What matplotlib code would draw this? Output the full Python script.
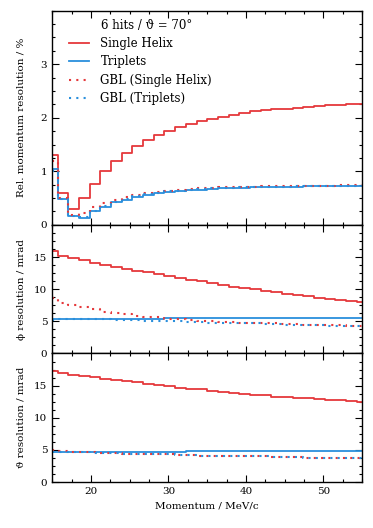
import numpy as np
import matplotlib
matplotlib.use('Agg')
import matplotlib.pyplot as plt
from matplotlib.ticker import MultipleLocator, AutoMinorLocator

plt.rcParams['font.family'] = ['DejaVu Serif']
plt.rcParams['font.size'] = 7.5

# bin centres (momentum / MeV/c)
momentum = np.linspace(15, 55, 30)

# relative momentum resolution / %
p_helix = [1.30, 0.60, 0.30, 0.50, 0.77, 1.00, 1.19, 1.35, 1.48, 1.59,
           1.68, 1.76, 1.83, 1.89, 1.94, 1.98, 2.02, 2.05, 2.09, 2.12,
           2.14, 2.16, 2.17, 2.19, 2.20, 2.22, 2.23, 2.24, 2.25, 2.26]
p_triplet = [1.05, 0.48, 0.16, 0.13, 0.25, 0.34, 0.42, 0.47, 0.52, 0.56,
             0.60, 0.62, 0.64, 0.65, 0.66, 0.67, 0.68, 0.69, 0.69, 0.70,
             0.70, 0.71, 0.71, 0.71, 0.72, 0.72, 0.72, 0.72, 0.73, 0.73]
p_gbl_helix = [1.20, 0.50, 0.18, 0.22, 0.33, 0.40, 0.47, 0.52, 0.56, 0.59,
               0.62, 0.64, 0.66, 0.67, 0.68, 0.69, 0.70, 0.70, 0.71, 0.71,
               0.72, 0.72, 0.72, 0.73, 0.73, 0.73, 0.73, 0.74, 0.74, 0.74]
p_gbl_triplet = [1.00, 0.49, 0.17, 0.15, 0.26, 0.35, 0.43, 0.48, 0.53, 0.57,
                 0.60, 0.63, 0.64, 0.66, 0.67, 0.68, 0.68, 0.69, 0.70, 0.70,
                 0.71, 0.71, 0.71, 0.72, 0.72, 0.72, 0.72, 0.73, 0.73, 0.73]

# phi resolution / mrad
phi_helix = [15.9, 15.2, 14.8, 14.5, 14.1, 13.8, 13.5, 13.2, 12.9, 12.6,
             12.3, 12.0, 11.7, 11.5, 11.2, 10.9, 10.7, 10.4, 10.2, 10.0,
             9.7, 9.5, 9.3, 9.1, 8.9, 8.7, 8.5, 8.3, 8.2, 8.0]
phi_triplet = [5.4, 5.4, 5.4, 5.4, 5.4, 5.4, 5.4, 5.4, 5.4, 5.4,
               5.4, 5.5, 5.5, 5.5, 5.5, 5.5, 5.5, 5.5, 5.5, 5.5,
               5.5, 5.5, 5.5, 5.5, 5.5, 5.5, 5.5, 5.5, 5.5, 5.55]
phi_gbl_helix = [8.6, 7.9, 7.5, 7.3, 6.9, 6.5, 6.3, 6.1, 5.9, 5.7,
                 5.6, 5.4, 5.3, 5.2, 5.1, 5.0, 4.9, 4.9, 4.8, 4.8,
                 4.7, 4.7, 4.6, 4.6, 4.5, 4.5, 4.4, 4.4, 4.3, 4.3]
phi_gbl_triplet = [5.2, 5.3, 5.3, 5.3, 5.3, 5.3, 5.2, 5.2, 5.2, 5.1,
                   5.1, 5.0, 5.0, 4.9, 4.9, 4.8, 4.8, 4.7, 4.7, 4.7,
                   4.6, 4.6, 4.5, 4.5, 4.4, 4.4, 4.3, 4.3, 4.2, 4.2]

# theta resolution / mrad
theta_helix = [17.2, 16.9, 16.7, 16.5, 16.3, 16.1, 15.9, 15.7, 15.5, 15.3,
               15.1, 14.9, 14.7, 14.5, 14.4, 14.2, 14.0, 13.9, 13.7, 13.6,
               13.5, 13.3, 13.2, 13.1, 13.0, 12.9, 12.8, 12.7, 12.6, 12.4]
theta_triplet = [4.6, 4.6, 4.6, 4.6, 4.6, 4.7, 4.7, 4.7, 4.7, 4.7,
                 4.7, 4.7, 4.7, 4.8, 4.8, 4.8, 4.8, 4.8, 4.8, 4.8,
                 4.8, 4.8, 4.8, 4.8, 4.8, 4.8, 4.8, 4.8, 4.85, 4.85]
theta_gbl_helix = [5.0, 4.8, 4.7, 4.6, 4.6, 4.5, 4.5, 4.4, 4.4, 4.3,
                   4.3, 4.3, 4.2, 4.2, 4.1, 4.1, 4.1, 4.0, 4.0, 4.0,
                   4.0, 3.9, 3.9, 3.9, 3.8, 3.8, 3.8, 3.8, 3.7, 3.7]
theta_gbl_triplet = [4.6, 4.6, 4.6, 4.6, 4.5, 4.5, 4.5, 4.4, 4.4, 4.3,
                     4.3, 4.3, 4.2, 4.2, 4.1, 4.1, 4.1, 4.0, 4.0, 4.0,
                     4.0, 3.9, 3.9, 3.9, 3.8, 3.8, 3.8, 3.8, 3.7, 3.7]

red = '#e5383b'
blue = '#2a8fdc'

fig = plt.figure(figsize=(3.73, 5.28), dpi=100)
gs = fig.add_gridspec(3, 1, height_ratios=[5, 3, 3], hspace=0,
                      left=0.140, right=0.971, top=0.980, bottom=0.087)
axes = [fig.add_subplot(gs[i]) for i in range(3)]

panels = [
    (p_helix, p_triplet, p_gbl_helix, p_gbl_triplet, 4, 1, 'Rel. momentum resolution / %'),
    (phi_helix, phi_triplet, phi_gbl_helix, phi_gbl_triplet, 20, 5, 'ϕ resolution / mrad'),
    (theta_helix, theta_triplet, theta_gbl_helix, theta_gbl_triplet, 20, 5, 'ϑ resolution / mrad'),
]

for ax, (h, t, gh, gt, ymax, major, ylabel) in zip(axes, panels):
    ax.plot(momentum, h, color=red, lw=1.3, drawstyle='steps-mid', label='Single Helix')
    ax.plot(momentum, t, color=blue, lw=1.3, drawstyle='steps-mid', label='Triplets')
    ax.plot(momentum, gh, color=red, lw=1.5, ls=(0, (1, 2.5)), drawstyle='steps-mid',
            label='GBL (Single Helix)')
    ax.plot(momentum, gt, color=blue, lw=1.5, ls=(0, (1, 2.5)), drawstyle='steps-mid',
            label='GBL (Triplets)')
    ax.set_xlim(15, 55)
    ax.set_ylim(0, ymax)
    ax.set_yticks(np.arange(0, ymax, major))
    ax.yaxis.set_minor_locator(AutoMinorLocator(4))
    ax.xaxis.set_major_locator(MultipleLocator(10))
    ax.xaxis.set_minor_locator(AutoMinorLocator(4))
    ax.tick_params(which='both', direction='in', top=True, right=True, width=0.8)
    ax.tick_params(which='major', length=5)
    ax.tick_params(which='minor', length=2.5)
    for s in ax.spines.values():
        s.set_linewidth(1.0)
    ax.set_ylabel(ylabel, labelpad=6)
    if ax is not axes[-1]:
        ax.tick_params(labelbottom=False)

axes[-1].set_xlabel('Momentum / MeV/c')
fig.align_ylabels(axes)

leg = axes[0].legend(loc='upper left', frameon=False, title='6 hits / ϑ = 70°',
                     handlelength=1.7, handletextpad=1.0, fontsize=8.5,
                     title_fontsize=8.5, labelspacing=0.45,
                     bbox_to_anchor=(0.03, 0.995), borderaxespad=0.2)
leg._legend_box.align = 'left'
leg.get_title().set_position((32, 0))

fig.savefig('out.png', dpi=100)
